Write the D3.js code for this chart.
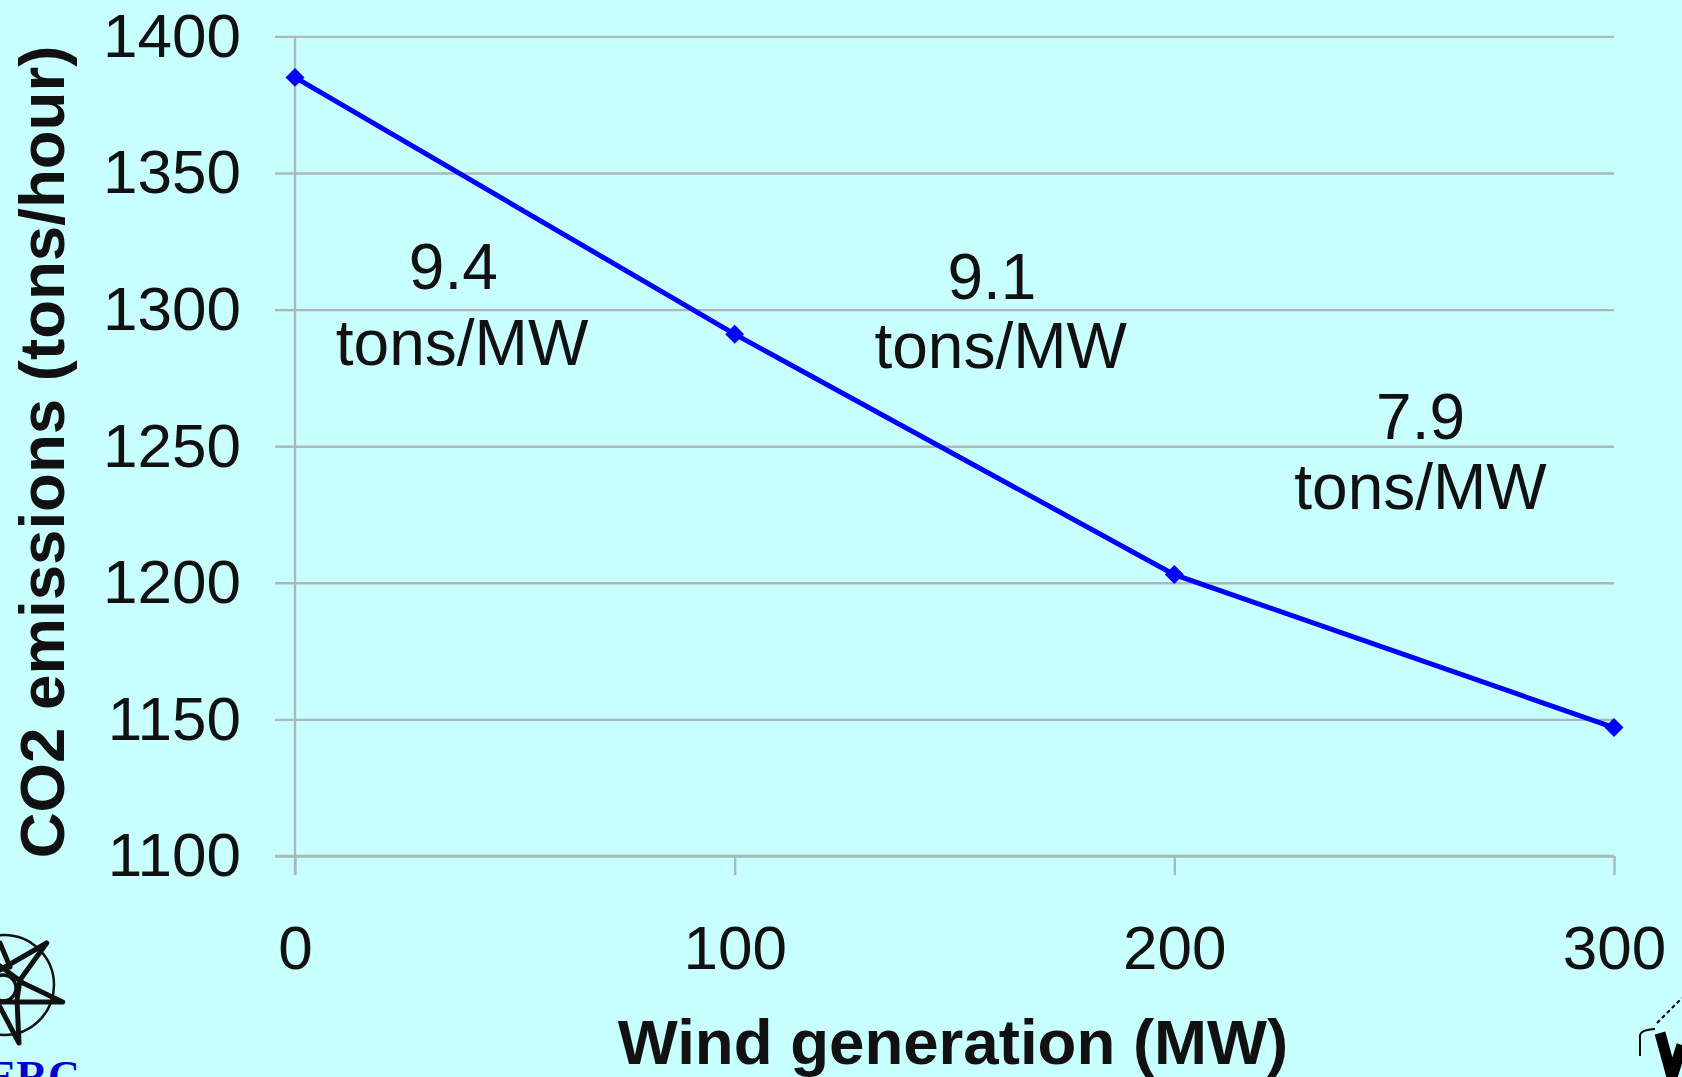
<!DOCTYPE html>
<html>
<head>
<meta charset="utf-8">
<script src="https://cdn.jsdelivr.net/npm/d3@7"></script>
<style>
html, body { margin: 0; padding: 0; background: #c8ffff; overflow: hidden; }
text { font-family: "Liberation Sans", Arial, sans-serif; fill: #111; }
.tick text { font-size: 62px; }
.axis-title { font-size: 63.6px; font-weight: bold; }
.note { font-size: 64px; text-anchor: middle; }
</style>
</head>
<body>
<svg id="chart" width="1682" height="1077"></svg>
<script>
var wind = [0, 100, 200, 300];
var co2 = [1385, 1291, 1203, 1147];
var yTicks = [1100, 1150, 1200, 1250, 1300, 1350, 1400];
var xTicks = [0, 100, 200, 300];
var noteRates = ['9.4', '9.1', '7.9'];
var noteUnit = 'tons/MW';
// where each rate label sits, in data units
var rateX = [36, 158.5, 256];
var rateY = [1307.5, 1304, 1252.5];
var unitX = [38, 160.5, 256];
var unitY = [1279.6, 1278.5, 1226.9];

var margin = { top: 36.4, left: 295, right: 68, bottom: 221 };
var width = 1682, height = 1077;
var gridColor = '#a9b8b8';

var base = d3.select('#chart');

var x = d3.scaleLinear().domain([0, 300]).range([margin.left, width - margin.right]);
var y = d3.scaleLinear().domain([1100, 1400]).range([height - margin.bottom, margin.top]);

// Horizontal gridlines and y labels
var yAxis = base.append('g')
    .attr('transform', 'translate(' + margin.left + ',0)')
    .call(d3.axisLeft(y).tickValues(yTicks).tickFormat(d3.format('d')).tickSize(20).tickPadding(34));
yAxis.selectAll('.tick').append('line')
    .attr('x1', 0)
    .attr('x2', width - margin.right - margin.left);

// x axis with downward ticks
var xAxis = base.append('g')
    .attr('transform', 'translate(0,' + (height - margin.bottom) + ')')
    .call(d3.axisBottom(x).tickValues(xTicks).tickSize(19).tickPadding(50));

base.selectAll('.domain').attr('stroke', gridColor).attr('stroke-width', 2.4);
base.selectAll('.tick line').attr('stroke', gridColor).attr('stroke-width', 2.4);
yAxis.select('.domain').attr('d', 'M0,' + margin.top + 'V' + (height - margin.bottom + 19));
xAxis.select('.domain').attr('d', 'M' + (margin.left - 20) + ',0H' + (width - margin.right));

// Line and diamonds
var line = d3.line()
    .x(function(d, i) { return x(wind[i]); })
    .y(function(d) { return y(d); });

base.append('path')
    .datum(co2)
    .attr('d', line)
    .attr('fill', 'none')
    .attr('stroke', '#0000ff')
    .attr('stroke-width', 5);

base.selectAll('.pt')
    .data(co2)
    .enter()
    .append('path')
    .attr('class', 'pt')
    .attr('d', d3.symbol().type(d3.symbolSquare).size(180))
    .attr('transform', function(d, i) {
        return 'translate(' + x(wind[i]) + ',' + y(d) + ') rotate(45)';
    })
    .attr('fill', '#0000ff');

// Axis titles
base.append('text')
    .attr('class', 'axis-title')
    .attr('x', 953)
    .attr('y', 1064)
    .attr('text-anchor', 'middle')
    .text('Wind generation (MW)');

base.append('text')
    .attr('class', 'axis-title')
    .attr('transform', 'translate(64,452) rotate(-90)')
    .attr('text-anchor', 'middle')
    .text('CO2 emissions (tons/hour)');

// Slope notes
var notes = base.selectAll('.note-group')
    .data(noteRates)
    .enter()
    .append('g');
notes.append('text')
    .attr('class', 'note')
    .attr('x', function(d, i) { return x(rateX[i]); })
    .attr('y', function(d, i) { return y(rateY[i]); })
    .text(function(d) { return d; });
notes.append('text')
    .attr('class', 'note')
    .attr('x', function(d, i) { return x(unitX[i]); })
    .attr('y', function(d, i) { return y(unitY[i]); })
    .text(noteUnit);

// Logo, bottom left
var logo = base.append('g').attr('fill', 'none').attr('stroke', '#111');
logo.append('circle').attr('cx', 4).attr('cy', 985).attr('r', 50).attr('stroke-width', 2.5);
logo.append('circle').attr('cx', 3).attr('cy', 988).attr('r', 13).attr('stroke-width', 3.5);
logo.append('path')
    .attr('d', 'M46.7,943 L20,980 L17,1000 L19,1043 M46.7,943 L0,970 M62.7,1002 L23,983 L0,966 M62.7,1002 L0,1002 M19,1043 L0,1007 M0,943 L10,967')
    .attr('stroke-width', 5)
    .attr('stroke-linecap', 'round')
    .attr('stroke-linejoin', 'round');

base.append('text')
    .attr('x', -13)
    .attr('y', 1091)
    .attr('style', 'font-family:"Liberation Serif",serif;font-weight:bold;font-size:44px;fill:#0000cc')
    .text('ERC');

// Logo, bottom right
var rightLogo = base.append('g').attr('fill', 'none').attr('stroke', '#000');
rightLogo.append('path')
    .attr('d', 'M1640,1056 V1036 Q1640,1030 1655,1029')
    .attr('stroke-width', 2);
rightLogo.append('path')
    .attr('d', 'M1660,1033 L1672,1077 L1682,1045')
    .attr('stroke-width', 11);
rightLogo.append('path')
    .attr('d', 'M1657,1023 L1682,998')
    .attr('stroke-width', 2)
    .attr('stroke-dasharray', '4 3');
</script>
</body>
</html>
